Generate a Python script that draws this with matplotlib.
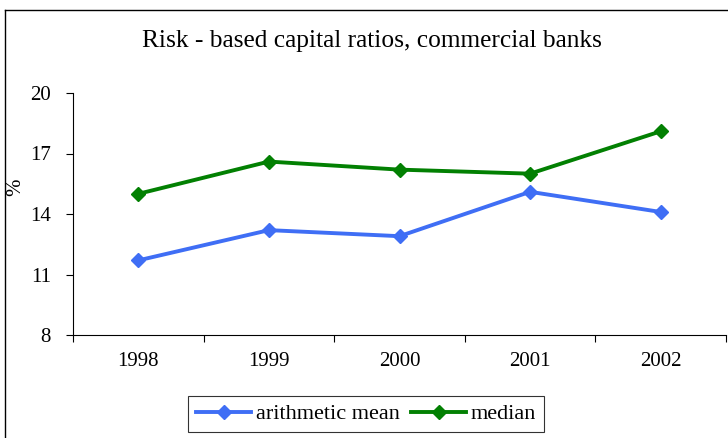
import matplotlib
matplotlib.use('Agg')
import matplotlib.pyplot as plt
from matplotlib.lines import Line2D
import numpy as np

# Risk-based capital ratios, %
years = ['1998', '1999', '2000', '2001', '2002']
arith_mean = [11.7, 13.2, 12.9, 15.1, 14.1]
median = [15.0, 16.6, 16.2, 16.0, 18.1]
yticks = [8, 11, 14, 17, 20]

plt.rcParams['font.family'] = 'Liberation Serif'
plt.rcParams['font.size'] = 15

fig = plt.figure(figsize=(7.28, 4.38), dpi=100)
ax = fig.add_axes([73 / 728, 1 - 335 / 438, 653 / 728, 242 / 438])

x = np.arange(len(years))
ax.plot(x, arith_mean, color='#3f6ef5', lw=2.8, marker='D', ms=7.5, label='arithmetic mean')
ax.plot(x, median, color='#028002', lw=2.8, marker='D', ms=7.5, label='median')

ax.set_xlim(-0.5, len(years) - 0.5)
ax.set_ylim(8, 20)
ax.set_yticks(yticks)
ax.set_xticks(x)
ax.set_xticklabels(years)
ax.set_xticks(np.arange(-0.5, len(years)), minor=True)
ax.tick_params(axis='x', which='major', length=0, pad=12)
ax.tick_params(axis='x', which='minor', length=5, width=0.8, direction='out')
ax.tick_params(axis='y', length=5, width=0.8, direction='out', pad=11)
for s in ['top', 'right']:
    ax.spines[s].set_visible(False)
for s in ['left', 'bottom']:
    ax.spines[s].set_linewidth(0.8)

ax.set_ylabel('%')
ax.yaxis.set_label_coords(-48 / 653, (335 - 187) / 242)
fig.text(372 / 728, 1 - 41 / 438, 'Risk - based capital ratios, commercial banks',
         ha='center', va='center', fontsize=18.3)

leg = fig.legend(loc='lower center', bbox_to_anchor=(366 / 728, -0.012), ncol=2,
                 frameon=True, fancybox=False, edgecolor='black', handlelength=2.5,
                 columnspacing=0.5, handletextpad=0.2, borderpad=0.35,
                 fontsize=16)
leg.get_frame().set_linewidth(0.8)

# outer chart frame
fig.add_artist(Line2D([5 / 728, 5 / 728], [0, 1 - 10 / 438], transform=fig.transFigure,
                      color='black', lw=1))
fig.add_artist(Line2D([5 / 728, 1], [1 - 10 / 438, 1 - 10 / 438], transform=fig.transFigure,
                      color='black', lw=1))

fig.savefig('out.png', dpi=100)
